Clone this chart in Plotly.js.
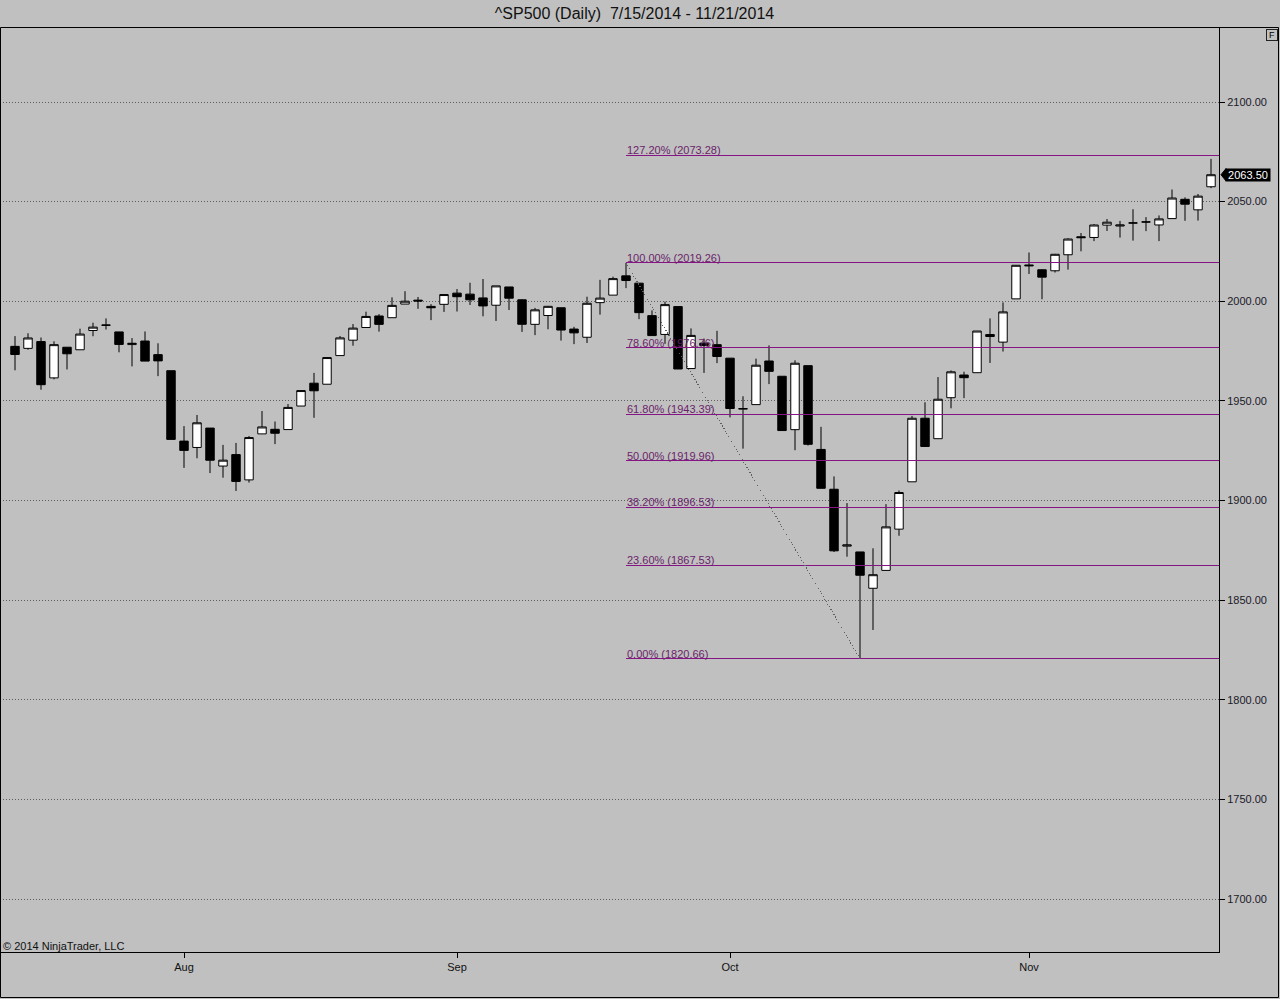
<!DOCTYPE html>
<html>
<head>
<meta charset="utf-8">
<script src="https://cdn.plot.ly/plotly-3.0.1.min.js"></script>
<style>
html,body{margin:0;padding:0;background:#c0c0c0;}
#chart{width:1280px;height:999px;}
#chart .scatterlayer path.js-line{shape-rendering:crispEdges;}
</style>
</head>
<body>
<div id="chart"></div>
<script>
// ---- data ----
const dates = [
 '2014-07-15','2014-07-16','2014-07-17','2014-07-18','2014-07-21','2014-07-22','2014-07-23','2014-07-24','2014-07-25','2014-07-28','2014-07-29','2014-07-30','2014-07-31',
 '2014-08-01','2014-08-04','2014-08-05','2014-08-06','2014-08-07','2014-08-08','2014-08-11','2014-08-12','2014-08-13','2014-08-14','2014-08-15','2014-08-18','2014-08-19','2014-08-20','2014-08-21','2014-08-22','2014-08-25','2014-08-26','2014-08-27','2014-08-28','2014-08-29',
 '2014-09-02','2014-09-03','2014-09-04','2014-09-05','2014-09-08','2014-09-09','2014-09-10','2014-09-11','2014-09-12','2014-09-15','2014-09-16','2014-09-17','2014-09-18','2014-09-19','2014-09-22','2014-09-23','2014-09-24','2014-09-25','2014-09-26','2014-09-29','2014-09-30',
 '2014-10-01','2014-10-02','2014-10-03','2014-10-06','2014-10-07','2014-10-08','2014-10-09','2014-10-10','2014-10-13','2014-10-14','2014-10-15','2014-10-16','2014-10-17','2014-10-20','2014-10-21','2014-10-22','2014-10-23','2014-10-24','2014-10-27','2014-10-28','2014-10-29','2014-10-30','2014-10-31',
 '2014-11-03','2014-11-04','2014-11-05','2014-11-06','2014-11-07','2014-11-10','2014-11-11','2014-11-12','2014-11-13','2014-11-14','2014-11-17','2014-11-18','2014-11-19','2014-11-20','2014-11-21'
];
const openP = [
 1977.36,1976.35,1979.75,1961.54,1976.93,1975.65,1985.32,1988.07,1984.60,1978.25,1980.03,1973.21,1965.14,
 1929.80,1926.62,1936.34,1917.29,1923.03,1910.35,1933.43,1935.73,1935.60,1947.41,1958.87,1958.36,1972.73,1980.46,1986.82,1992.60,1991.74,1998.59,2000.54,1997.42,1998.45,
 2004.07,2003.57,2001.67,1998.00,2007.17,2000.73,1988.41,1992.85,1996.74,1986.04,1981.93,1999.30,2003.07,2012.74,2009.08,1992.78,1983.34,1997.32,1966.22,1978.96,1978.21,
 1971.44,1945.83,1948.12,1970.01,1962.36,1935.55,1967.68,1925.63,1905.65,1877.11,1874.18,1855.95,1864.91,1885.62,1909.38,1941.29,1931.02,1951.59,1962.97,1964.14,1983.29,1979.49,2001.20,
 2018.21,2015.81,2015.29,2023.33,2032.36,2032.01,2038.20,2037.75,2039.21,2039.74,2038.29,2041.48,2051.16,2045.87,2057.46
];
const highP = [
 1982.52,1983.94,1981.80,1979.91,1976.93,1986.24,1989.23,1991.39,1984.60,1981.52,1984.85,1978.90,1965.14,
 1937.35,1942.92,1936.34,1927.91,1928.89,1932.38,1944.90,1939.65,1948.41,1955.23,1964.04,1971.99,1982.57,1988.57,1994.76,1993.54,2001.95,2005.04,2002.14,1998.55,2003.38,
 2006.12,2009.28,2011.17,2007.71,2007.17,2001.01,1996.66,1997.65,1996.74,1987.18,2002.28,2010.74,2012.34,2019.26,2009.08,1995.41,1999.79,1997.32,1986.37,1981.28,1985.17,
 1971.44,1952.32,1971.19,1977.84,1962.36,1970.36,1967.68,1936.98,1912.09,1898.71,1874.18,1876.01,1898.16,1905.03,1942.45,1949.31,1961.95,1965.27,1964.64,1985.05,1991.40,1999.40,2018.19,
 2024.46,2015.98,2023.77,2031.61,2034.26,2038.70,2041.28,2040.33,2046.18,2042.22,2043.07,2056.08,2052.14,2053.84,2071.46
];
const lowP = [
 1965.34,1975.67,1955.59,1960.82,1965.77,1975.65,1982.44,1985.79,1974.37,1967.31,1969.95,1962.42,1930.67,
 1916.37,1921.20,1913.77,1911.45,1904.78,1909.01,1933.43,1928.29,1935.60,1947.41,1941.50,1958.36,1972.73,1977.68,1986.82,1984.76,1991.74,1998.59,1996.20,1990.52,1994.65,
 1994.85,1998.14,1992.44,1990.10,1995.60,1984.61,1982.99,1985.93,1980.26,1978.48,1979.06,1993.29,2003.07,2006.59,1991.01,1982.77,1978.63,1965.99,1966.22,1964.04,1968.96,
 1941.72,1926.03,1948.12,1958.43,1935.10,1925.25,1927.56,1906.05,1874.14,1871.79,1820.66,1835.02,1864.91,1882.30,1909.38,1926.83,1931.02,1946.27,1951.37,1964.14,1969.04,1974.75,2001.20,
 2013.68,2001.01,2014.42,2015.86,2025.07,2030.17,2035.28,2031.95,2030.44,2035.20,2030.20,2041.48,2040.37,2040.49,2056.75
];
const closeP = [
 1973.28,1981.57,1958.12,1978.22,1973.63,1983.53,1987.01,1987.98,1978.34,1978.91,1969.95,1970.07,1930.67,
 1925.15,1938.99,1920.21,1920.24,1909.57,1931.59,1936.92,1933.75,1946.72,1955.18,1955.06,1971.74,1981.60,1986.51,1992.37,1988.40,1997.92,2000.02,2000.12,1996.74,2003.37,
 2002.28,2000.72,1997.65,2007.71,2001.54,1988.44,1995.69,1997.45,1985.54,1984.13,1998.98,2001.57,2011.36,2010.40,1994.29,1982.77,1998.30,1965.99,1982.85,1977.80,1972.29,
 1946.16,1946.17,1967.90,1964.82,1935.10,1968.89,1928.21,1906.13,1874.74,1877.70,1862.49,1862.76,1886.76,1904.01,1941.28,1927.11,1950.82,1964.58,1961.63,1985.05,1982.30,1994.65,2018.05,
 2017.81,2012.10,2023.57,2031.21,2031.92,2038.26,2039.68,2038.25,2039.33,2039.82,2041.32,2051.80,2048.72,2052.75,2063.50
];
const monthTickDates = ['2014-08-01','2014-09-02','2014-10-01','2014-11-03'];
const monthTickLabels = ['Aug','Sep','Oct','Nov'];
const fibPct = ['127.20%','100.00%','78.60%','61.80%','50.00%','38.20%','23.60%','0.00%'];
const fibPrice = [2073.28,2019.26,1976.76,1943.39,1919.96,1896.53,1867.53,1820.66];
const swingDates = ['2014-09-19','2014-10-15'];
const swingPrices = [2019.26,1820.66];
const lastPrice = 2063.50;
const titleText = '^SP500 (Daily)\u00a0 7/15/2014 - 11/21/2014';
const copyrightText = '\u00a9 2014 NinjaTrader, LLC';

// ---- layout geometry ----
const W = 1280, H = 999;
const mL = 0, mR = 61, mT = 27, mB = 47;
const plotW = W - mL - mR, plotH = H - mT - mB;
const barPx = 13, firstPx = 15;
const xr = [(0 - firstPx) / barPx, (plotW - firstPx) / barPx];
const pxX = px => (px - mL) / plotW;
const pxY = py => 1 - (py - mT) / plotH;

const xIdx = dates.map((d, i) => i);
const idxOf = d => dates.indexOf(d);
const FONT = 'Liberation Sans, Arial, sans-serif';
const FIB = '#851485';

const traces = [];
const fibStart = idxOf(swingDates[0]);
const annotations = [];
fibPrice.forEach((p, i) => {
 traces.push({type: 'scatter', mode: 'lines', x: [fibStart, xr[1]], y: [p, p],
   line: {color: FIB, width: 1}, showlegend: false, hoverinfo: 'skip'});
 annotations.push({xref: 'x', yref: 'y', x: fibStart, y: p, xanchor: 'left', yanchor: 'bottom',
   text: fibPct[i] + ' (' + p.toFixed(2) + ')', showarrow: false, xshift: 0, yshift: -2,
   font: {family: FONT, size: 11, color: '#6a1f6a'}, borderpad: 0});
});
traces.push({
  type: 'scatter', mode: 'lines', x: swingDates.map(idxOf), y: swingPrices,
  line: {color: '#5e5e5e', width: 1, dash: '1px,2px'}, showlegend: false, hoverinfo: 'skip'
});
traces.push({
  type: 'candlestick', x: xIdx, open: openP, high: highP, low: lowP, close: closeP,
  increasing: {line: {color: '#000', width: 1}, fillcolor: '#ffffff'},
  decreasing: {line: {color: '#000', width: 1}, fillcolor: '#000000'},
  whiskerwidth: 0, showlegend: false, hoverinfo: 'skip'
});

const shapes = [];
// outer frame
shapes.push({type: 'rect', xref: 'paper', yref: 'paper', x0: pxX(0.5), x1: pxX(1278.5), y0: pxY(997.5), y1: pxY(27.5),
  line: {color: '#000', width: 1}, fillcolor: 'rgba(0,0,0,0)', layer: 'above'});
// price marker arrow
shapes.push({type: 'path', xref: 'paper', yref: 'y',
  path: 'M ' + pxX(1221) + ',' + lastPrice + ' L ' + pxX(1226) + ',' + (lastPrice + 3.1) + ' L ' + pxX(1226) + ',' + (lastPrice - 3.1) + ' Z',
  fillcolor: '#000', line: {color: '#000', width: 1}});
annotations.push({xref: 'paper', yref: 'y', x: pxX(1225), y: lastPrice, xanchor: 'left', yanchor: 'middle',
  text: lastPrice.toFixed(2), showarrow: false, bgcolor: '#000', width: 42, height: 10, borderpad: 1,
  font: {family: FONT, size: 11, color: '#fff'}});
annotations.push({xref: 'paper', yref: 'paper', x: pxX(1266), y: pxY(29), xanchor: 'left', yanchor: 'top',
  text: 'F', showarrow: false, width: 10, height: 10, borderpad: 0, bordercolor: '#222', borderwidth: 1,
  font: {family: FONT, size: 9, color: '#000'}});
annotations.push({xref: 'paper', yref: 'paper', x: pxX(2), y: 0, xanchor: 'left', yanchor: 'bottom', yshift: -1,
  text: copyrightText, showarrow: false, font: {family: FONT, size: 11, color: '#111'}, borderpad: 0});

const layout = {
 width: W, height: H,
 margin: {l: mL, r: mR, t: mT, b: mB, pad: 0},
 paper_bgcolor: '#c0c0c0', plot_bgcolor: '#c0c0c0',
 font: {family: FONT, size: 11, color: '#111'},
 boxgap: 0.35, boxgroupgap: 0,
 title: {text: titleText, font: {family: FONT, size: 16, color: '#111'},
   xref: 'container', x: 634.5 / W, xanchor: 'center', yref: 'container', y: 1 - 13 / H, yanchor: 'middle'},
 xaxis: {
  range: xr, type: 'linear', rangeslider: {visible: false},
  tickmode: 'array', tickvals: monthTickDates.map(idxOf), ticktext: monthTickLabels,
  ticks: 'outside', ticklen: 5, tickcolor: '#000', showgrid: false, zeroline: false,
  showline: true, linecolor: '#000', linewidth: 1, tickfont: {family: FONT, size: 11, color: '#111'}, fixedrange: true
 },
 yaxis: {
  range: [2100 - (plotH + mT - 102) / 1.9925, 2100 + (102 - mT) / 1.9925],
  side: 'right', dtick: 50, tick0: 1700, tickformat: '.2f',
  ticks: 'outside', ticklen: 5, tickcolor: '#000',
  showgrid: true, gridcolor: '#5e5e5e', gridwidth: 1, griddash: '1px,2px',
  zeroline: false, showline: true, linecolor: '#000', linewidth: 1,
  tickfont: {family: FONT, size: 11, color: '#1a1a2a'}, fixedrange: true
 },
 shapes: shapes, annotations: annotations, hovermode: false
};

Plotly.newPlot('chart', traces, layout, {displayModeBar: false, staticPlot: true});
</script>
</body>
</html>
